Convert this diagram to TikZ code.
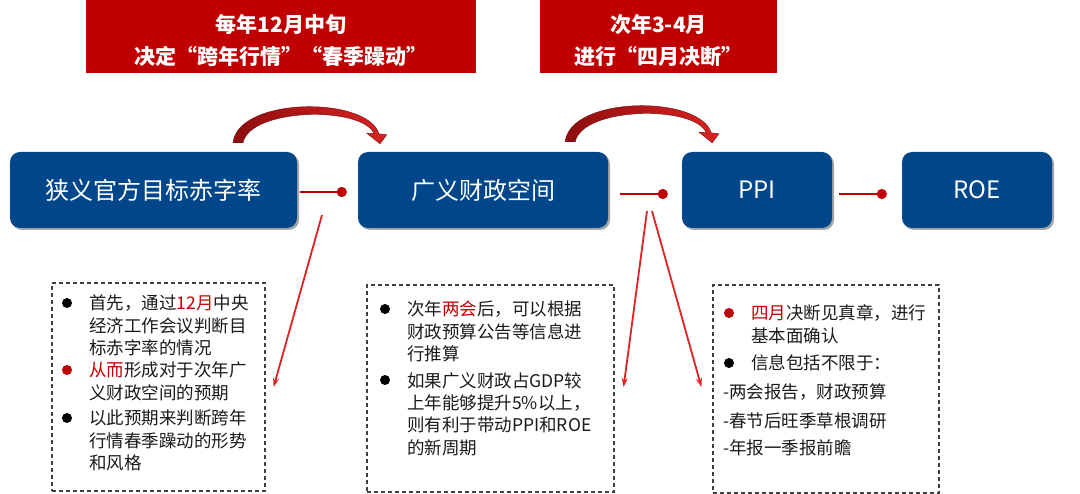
\documentclass[tikz,border=0pt]{standalone}
\usepackage{fontspec}
\setmainfont{Noto Sans CJK SC}
\usetikzlibrary{arrows.meta,shadows}
\definecolor{navy}{HTML}{00468B}
\definecolor{banred}{HTML}{C00000}
\definecolor{arrred}{HTML}{E02222}
\definecolor{dkred}{HTML}{8E0E0E}
\definecolor{ltred}{HTML}{DA2222}
\definecolor{txt}{HTML}{1A1A1A}
\tikzset{
  banner/.style={fill=banred, inner sep=0pt, minimum height=73pt},
  bantext/.style={align=center, inner sep=0pt, text=white, font=\fontsize{21}{32}\selectfont\bfseries},
  bluebox/.style={fill=navy, rounded corners=10pt, minimum height=76pt, inner sep=0pt,
    text=white, font=\fontsize{24}{28}\selectfont,
    drop shadow={shadow xshift=2pt, shadow yshift=-2pt, opacity=0.35, fill=black}},
  conn/.style={draw=banred, line width=2.5pt, -{Circle[length=10pt]}},
  thinarrow/.style={draw=arrred, line width=1.8pt, -{Stealth[length=9pt,width=6pt]}},
  dbox/.style={draw=black!75, dash pattern=on 4pt off 3pt, line width=1.2pt, inner sep=0pt},
  item/.style={align=left, inner sep=0pt, anchor=base west, text=txt, font=\fontsize{17.5}{22.4}\selectfont},
  dashitem/.style={align=left, inner sep=0pt, anchor=base west, text=txt, font=\fontsize{17.5}{28}\selectfont},
  bentarrow/.pic={
    \shade[left color=dkred, right color=ltred, draw=dkred!80!black, line width=0.4pt]
      (0,0) .. controls (5,-46) and (134,-47) .. (146,-9)
      -- (153.7,-8) -- (147,1) -- (133.7,-9.7) -- (141,-9.2)
      .. controls (129,-37) and (17,-35) .. (10,0) -- cycle;
  },
}
\begin{document}
\begin{tikzpicture}[x=1pt,y=-1pt]
\useasboundingbox (0,0) rectangle (1080,494);
% banners
\node[banner, minimum width=390pt] (ban1) at (281,36.5) {};
\node[bantext] (bt1) at (281,41) {每年12月中旬\\决定“跨年行情”“春季躁动”};
\node[banner, minimum width=237pt] (ban2) at (658.5,36.5) {};
\node[bantext] (bt2) at (658.5,41) {次年3-4月\\进行“四月决断”};
% blue boxes
\node[bluebox, minimum width=287pt] (b1) at (153.5,190) {狭义官方目标赤字率};
\node[bluebox, minimum width=250pt] (b2) at (483,190) {广义财政空间};
\node[bluebox, minimum width=150pt] (b3) at (757,190) {PPI};
\node[bluebox, minimum width=150pt] (b4) at (977,190) {ROE};
% connectors
\draw[conn] ([shift={(3pt,-2pt)}]b1.east) -- ([shift={(-11pt,-2pt)}]b2.west);
\draw[conn] ([shift={(12pt,-4pt)}]b2.east) -- ([shift={(-14pt,-4pt)}]b3.west);
\draw[conn] ([shift={(7pt,-4pt)}]b3.east) -- ([shift={(-15pt,-4pt)}]b4.west);
% curved arrows
\pic at ([shift={(79.5pt,9pt)}]b1.north) {bentarrow};
\pic at ([shift={(-43pt,10pt)}]b2.north east) {bentarrow};
% dashed boxes
\node[dbox, minimum width=213pt, minimum height=208pt] (da) at (158.5,387) {};
\node[dbox, minimum width=247pt, minimum height=207pt] (db) at (490.5,388.5) {};
\node[dbox, minimum width=226pt, minimum height=208pt] (dc) at (826,389) {};
% thin arrows
\coordinate (t1) at (322,215);
\coordinate (t2) at (647,211);
\coordinate (t3) at (652,211);
\draw[thinarrow] (t1) -- ([xshift=8pt]da.east);
\draw[thinarrow] (t2) -- ([xshift=9pt,yshift=1.5pt]db.east);
\draw[thinarrow] (t3) -- ([xshift=-11pt,yshift=2pt]dc.west);
% box A
\fill[black] (67,303) circle (5);
\node[item] (a1) at (89,354.8) {首先，通过\textcolor{banred}{12月}中央\\经济工作会议判断目\\标赤字率的情况};
\fill[banred] (67,370) circle (5);
\node[item] (a2) at (89,399.4) {\textcolor{banred}{从而}形成对于次年广\\义财政空间的预期};
\fill[black] (67,418) circle (5);
\node[item] (a3) at (89,469.8) {以此预期来判断跨年\\行情春季躁动的形势\\和风格};
% box B
\fill[black] (385,309) circle (5);
\node[item] (bb1) at (407,360.8) {次年\textcolor{banred}{两会}后，可以根据\\财政预算公告等信息进\\行推算};
\fill[black] (385,380) circle (5);
\node[item] (bb2) at (407,454.2) {如果广义财政占GDP较\\上年能够提升5\%以上，\\则有利于带动PPI和ROE\\的新周期};
% box C
\fill[banred] (729,313) circle (5);
\node[item] (c1) at (751,342.4) {\textcolor{banred}{四月}决断见真章，进行\\基本面确认};
\fill[black] (729,363) circle (5);
\node[item] (c2) at (751,370) {信息包括不限于：};
\node[dashitem] (c3) at (723,455) {-两会报告，财政预算\\-春节后旺季草根调研\\-年报一季报前瞻};
\end{tikzpicture}
\end{document}
